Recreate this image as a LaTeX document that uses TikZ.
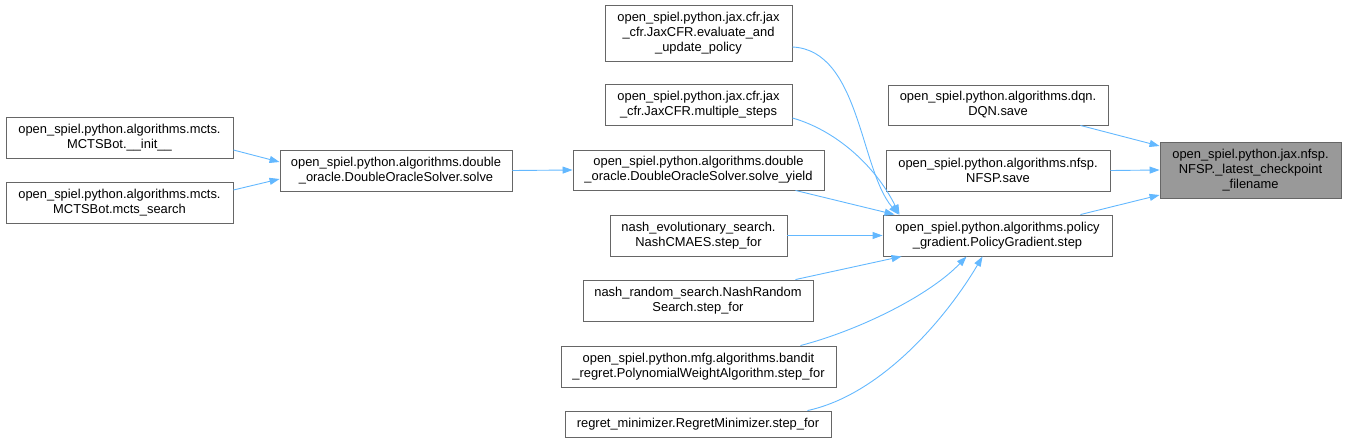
\documentclass[tikz,border=0pt]{standalone}
\usepackage{fontspec}
\setmainfont{Liberation Sans}
\usetikzlibrary{arrows.meta}
\definecolor{edgeblue}{HTML}{63B8FF}
\definecolor{boxline}{HTML}{666666}
\definecolor{targetfill}{HTML}{999999}
\tikzset{
  fn/.style={draw=boxline, line width=0.9pt, fill=white, align=center, inner sep=0pt,
    font=\fontsize{12.9}{15}\selectfont, text=black},
  target/.style={fn, fill=targetfill},
  call/.style={draw=edgeblue, line width=0.9pt, -{Triangle[length=10pt,width=7pt]}},
}
\begin{document}
\begin{tikzpicture}[x=1pt,y=-1pt]
\useasboundingbox (0,0) rectangle (1346,442);
% left column
\node[fn, minimum width=227, minimum height=41] (init) at (119.5,137.5) {open\_spiel.python.algorithms.mcts.\\MCTSBot.\_\_init\_\_};
\node[fn, minimum width=227, minimum height=41] (search) at (119.5,202.5) {open\_spiel.python.algorithms.mcts.\\MCTSBot.mcts\_search};
\node[fn, minimum width=232, minimum height=41] (solve) at (396,170.5) {open\_spiel.python.algorithms.double\\\_oracle.DoubleOracleSolver.solve};
% middle column
\node[fn, minimum width=187, minimum height=56] (evaluate) at (698.5,33) {open\_spiel.python.jax.cfr.jax\\\_cfr.JaxCFR.evaluate\_and\\\_update\_policy};
\node[fn, minimum width=187, minimum height=41] (multiple) at (698.5,104.5) {open\_spiel.python.jax.cfr.jax\\\_cfr.JaxCFR.multiple\_steps};
\node[fn, minimum width=251, minimum height=40] (yield) at (698.5,170) {open\_spiel.python.algorithms.double\\\_oracle.DoubleOracleSolver.solve\_yield};
\node[fn, minimum width=177, minimum height=41] (nevo) at (698.5,235.5) {nash\_evolutionary\_search.\\NashCMAES.step\_for};
\node[fn, minimum width=230, minimum height=41] (nrand) at (698,300.5) {nash\_random\_search.NashRandom\\Search.step\_for};
\node[fn, minimum width=275, minimum height=41] (bandit) at (698.5,366.5) {open\_spiel.python.mfg.algorithms.bandit\\\_regret.PolynomialWeightAlgorithm.step\_for};
\node[fn, minimum width=266, minimum height=26] (regret) at (698,424) {regret\_minimizer.RegretMinimizer.step\_for};
% right columns
\node[fn, minimum width=220, minimum height=40] (dqn) at (998,105) {open\_spiel.python.algorithms.dqn.\\DQN.save};
\node[fn, minimum width=224, minimum height=41] (nfsp) at (998,170.5) {open\_spiel.python.algorithms.nfsp.\\NFSP.save};
\node[fn, minimum width=229, minimum height=41] (pg) at (997.5,235.5) {open\_spiel.python.algorithms.policy\\\_gradient.PolicyGradient.step};
\node[target, minimum width=181, minimum height=56] (tgt) at (1250.5,170) {open\_spiel.python.jax.nfsp.\\NFSP.\_latest\_checkpoint\\\_filename};
% edges
\draw[call] ([yshift=-12.5pt]init.east) -- ([yshift=8.5pt]solve.west);
\draw[call] ([yshift=12.5pt]search.east) -- ([yshift=-8.5pt]solve.west);
\draw[call] (solve.east) -- (yield.west);
\draw[call] ([yshift=-14pt]evaluate.east) .. controls (860,50) and (860,170) .. ([xshift=16pt]pg.north west);
\draw[call] ([yshift=-13.5pt]multiple.east) .. controls (835,130) and (875,165) .. ([xshift=17pt]pg.north west);
\draw[call] ([xshift=-29pt]yield.south east) -- ([xshift=12pt]pg.north west);
\draw[call] (nevo.east) -- (pg.west);
\draw[call] ([xshift=-18pt]nrand.north east) -- ([xshift=19pt]pg.south west);
\draw[call] ([xshift=-36pt]bandit.north east) .. controls (860,330) and (930,295) .. ([xshift=84pt]pg.south west);
\draw[call] ([xshift=-24pt]regret.north east) .. controls (880,395) and (945,320) .. ([xshift=100pt]pg.south west);
\draw[call] ([xshift=-28pt]dqn.south east) -- ([yshift=24pt]tgt.west);
\draw[call] (nfsp.east) -- (tgt.west);
\draw[call] ([xshift=-32pt]pg.north east) -- ([yshift=-25pt]tgt.west);
\end{tikzpicture}
\end{document}
